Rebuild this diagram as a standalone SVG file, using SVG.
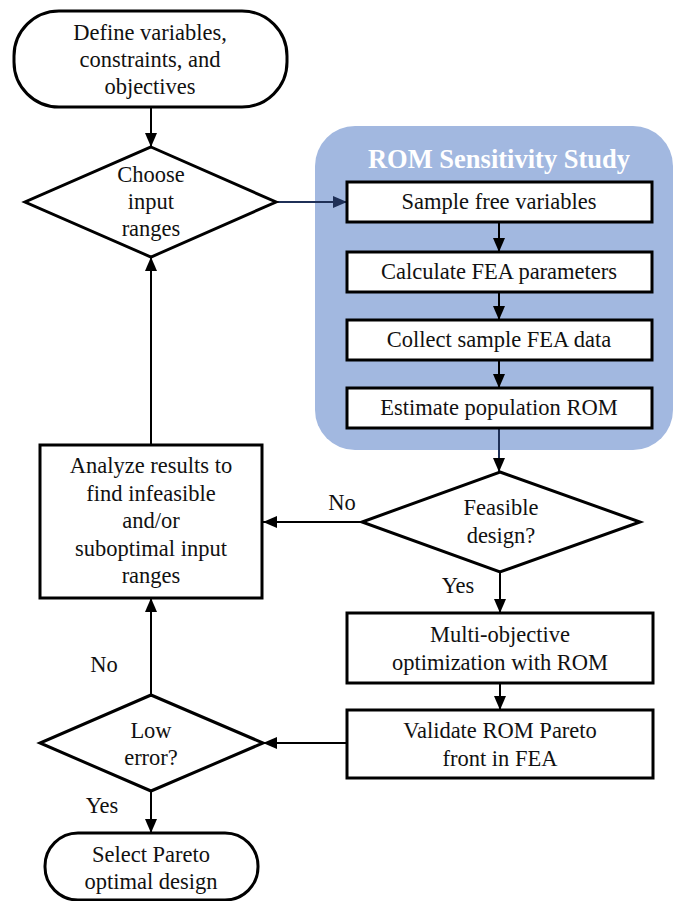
<svg xmlns="http://www.w3.org/2000/svg" width="674" height="901" viewBox="0 0 674 901">
<style>
.shape{fill:#fff;stroke:#000;stroke-width:3}
.t{font-family:'Liberation Serif','Times New Roman',serif;font-size:22.5px;fill:#111;text-anchor:middle}
.conn{fill:none;stroke:#000;stroke-width:2}
.navy{stroke:#1f3057}
.title{font-family:'Liberation Serif','Times New Roman',serif;font-size:26.5px;font-weight:bold;fill:#fff;text-anchor:middle}
</style>
<defs>
<marker id="ah" viewBox="0 0 14 12" refX="14" refY="6" markerWidth="14" markerHeight="12" markerUnits="userSpaceOnUse" orient="auto">
<path d="M0,0 L14,6 L0,12 z" fill="#000"/>
</marker>
<marker id="ahn" viewBox="0 0 14 12" refX="14" refY="6" markerWidth="14" markerHeight="12" markerUnits="userSpaceOnUse" orient="auto">
<path d="M0,0 L14,6 L0,12 z" fill="#1f3057"/>
</marker>
</defs>
<g id="rom-region">
<rect x="315" y="126" width="358" height="324" rx="40" fill="#a2b8e0"/>
<text class="title" x="499" y="168">ROM Sensitivity Study</text>
</g>
<g id="connectors">
<path class="conn" d="M151,107 L151,147" marker-end="url(#ah)"/>
<path class="conn navy" d="M276,202 L347,202" marker-end="url(#ahn)"/>
<path class="conn" d="M499,222 L499,252" marker-end="url(#ah)"/>
<path class="conn" d="M499,292 L499,320" marker-end="url(#ah)"/>
<path class="conn" d="M499,360 L499,388" marker-end="url(#ah)"/>
<path class="conn navy" d="M499,428 L499,472" marker-end="url(#ah)"/>
<path class="conn" d="M362,522 L263,522" marker-end="url(#ah)"/>
<path class="conn" d="M151,445 L151,257" marker-end="url(#ah)"/>
<path class="conn" d="M500,572 L500,613" marker-end="url(#ah)"/>
<path class="conn" d="M500,683 L500,710" marker-end="url(#ah)"/>
<path class="conn" d="M347,743 L263,743" marker-end="url(#ah)"/>
<path class="conn" d="M151,695 L151,598" marker-end="url(#ah)"/>
<path class="conn" d="M151,791 L151,833" marker-end="url(#ah)"/>
<text class="t" x="342" y="510">No</text>
<text class="t" x="458" y="593">Yes</text>
<text class="t" x="104" y="672">No</text>
<text class="t" x="102" y="813">Yes</text>
</g>
<g id="define">
<rect class="shape" x="14" y="11" width="273" height="96" rx="45"/>
<text class="t" x="150" y="40">Define variables,</text>
<text class="t" x="150" y="67">constraints, and</text>
<text class="t" x="150" y="94">objectives</text>
</g>
<g id="choose">
<polygon class="shape" points="151,147 276,202 151,257 25,202"/>
<text class="t" x="151" y="182">Choose</text>
<text class="t" x="151" y="209">input</text>
<text class="t" x="151" y="236">ranges</text>
</g>
<g id="sample">
<rect class="shape" x="347" y="182" width="305" height="40"/>
<text class="t" x="499" y="209">Sample free variables</text>
</g>
<g id="calculate">
<rect class="shape" x="347" y="252" width="305" height="40"/>
<text class="t" x="499" y="279">Calculate FEA parameters</text>
</g>
<g id="collect">
<rect class="shape" x="347" y="320" width="305" height="40"/>
<text class="t" x="499" y="347">Collect sample FEA data</text>
</g>
<g id="estimate">
<rect class="shape" x="347" y="388" width="305" height="40"/>
<text class="t" x="499" y="415">Estimate population ROM</text>
</g>
<g id="feasible">
<polygon class="shape" points="500,472 640,522 500,572 362,522"/>
<text class="t" x="501" y="515">Feasible</text>
<text class="t" x="501" y="543">design?</text>
</g>
<g id="analyze">
<rect class="shape" x="40" y="445" width="222" height="153"/>
<text class="t" x="151" y="473">Analyze results to</text>
<text class="t" x="151" y="501">find infeasible</text>
<text class="t" x="151" y="528">and/or</text>
<text class="t" x="151" y="556">suboptimal input</text>
<text class="t" x="151" y="583">ranges</text>
</g>
<g id="multi">
<rect class="shape" x="347" y="613" width="306" height="70"/>
<text class="t" x="500" y="642">Multi-objective</text>
<text class="t" x="500" y="670">optimization with ROM</text>
</g>
<g id="validate">
<rect class="shape" x="347" y="710" width="306" height="68"/>
<text class="t" x="500" y="738">Validate ROM Pareto</text>
<text class="t" x="500" y="766">front in FEA</text>
</g>
<g id="low-error">
<polygon class="shape" points="151,695 263,743 151,791 40,743"/>
<text class="t" x="151" y="738">Low</text>
<text class="t" x="151" y="765">error?</text>
</g>
<g id="select">
<rect class="shape" x="45" y="833" width="213" height="67" rx="33"/>
<text class="t" x="151" y="862">Select Pareto</text>
<text class="t" x="151" y="889">optimal design</text>
</g>
</svg>
